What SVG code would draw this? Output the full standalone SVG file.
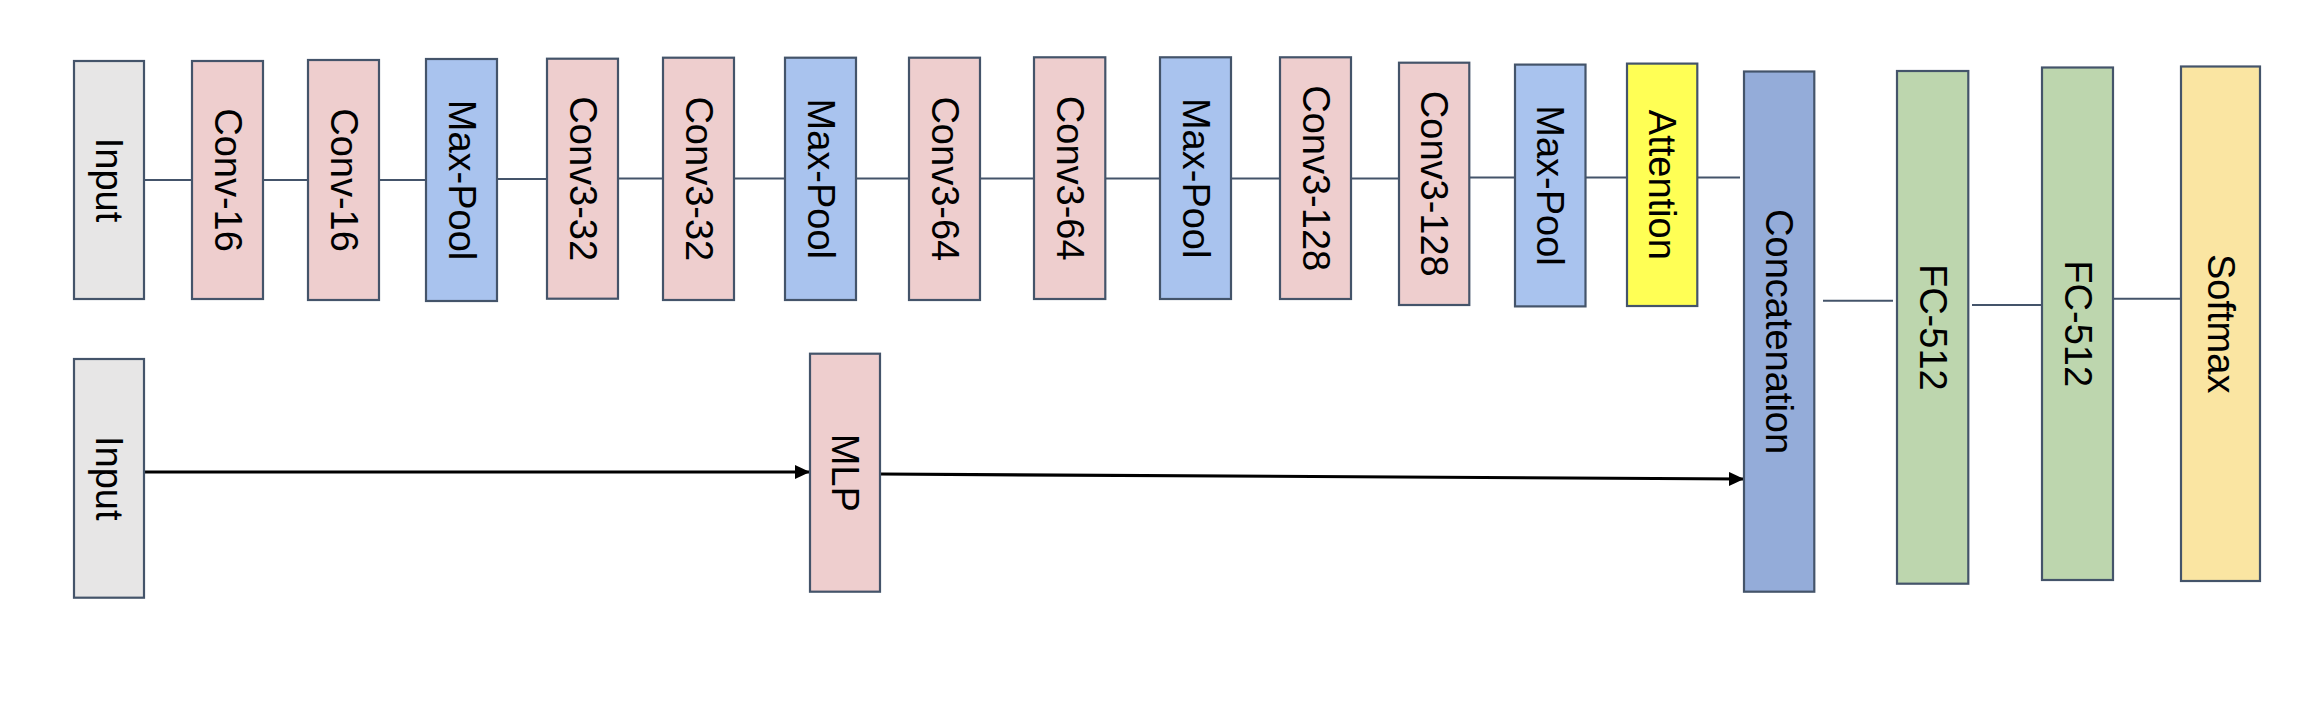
<svg xmlns="http://www.w3.org/2000/svg" width="2314" height="712" viewBox="0 0 2314 712">
<defs>
<style>
.box{stroke:#44546A;stroke-width:2.2}
.inp{fill:#E7E6E6}
.conv{fill:#EECECE}
.pool{fill:#A9C3EE}
.att{fill:#FFFF55}
.cat{fill:#94ACD9}
.fc{fill:#BDD6AE}
.sm{fill:#FAE5A2}
.lbl{font-family:"Liberation Sans",Arial,sans-serif;font-size:38px;fill:#000;text-anchor:middle;dominant-baseline:central}
.ln{stroke:#44546A;stroke-width:2;fill:none}
.arr{stroke:#000;stroke-width:3.2;fill:none;marker-end:url(#ah)}
</style>
<marker id="ah" markerUnits="userSpaceOnUse" markerWidth="15" markerHeight="14" refX="14" refY="7" orient="auto">
<path d="M0,0 L15,7 L0,14 z" fill="#000"/>
</marker>
</defs>
<rect width="2314" height="712" fill="#fff"/>
<g id="connectors">
<line class="ln" x1="144" y1="180" x2="192" y2="180"/>
<line class="ln" x1="263" y1="180" x2="308" y2="180"/>
<line class="ln" x1="379" y1="180" x2="426" y2="180"/>
<line class="ln" x1="497" y1="179" x2="547" y2="179"/>
<line class="ln" x1="618" y1="178.5" x2="663" y2="178.5"/>
<line class="ln" x1="734" y1="178.5" x2="785" y2="178.5"/>
<line class="ln" x1="856" y1="178.5" x2="909" y2="178.5"/>
<line class="ln" x1="980" y1="178.5" x2="1034" y2="178.5"/>
<line class="ln" x1="1105" y1="178.5" x2="1160" y2="178.5"/>
<line class="ln" x1="1231" y1="178.5" x2="1280" y2="178.5"/>
<line class="ln" x1="1351" y1="178.5" x2="1399" y2="178.5"/>
<line class="ln" x1="1469" y1="177.5" x2="1515" y2="177.5"/>
<line class="ln" x1="1585" y1="177.5" x2="1627" y2="177.5"/>
<line class="ln" x1="1697" y1="177.5" x2="1740" y2="177.5"/>
<line class="ln" x1="1823" y1="300.7" x2="1893" y2="300.7"/>
<line class="ln" x1="1972" y1="305" x2="2042" y2="305"/>
<line class="ln" x1="2111" y1="298.7" x2="2181" y2="298.7"/>
<line class="arr" x1="144" y1="472" x2="809" y2="472"/>
<line class="arr" x1="880" y1="474" x2="1743" y2="479"/>
</g>
<g id="input1"><rect class="box inp" x="74" y="61" width="70" height="238"/><text class="lbl" transform="translate(109,180) rotate(90)">Input</text></g>
<g id="conv16a"><rect class="box conv" x="192" y="61" width="71" height="238"/><text class="lbl" transform="translate(227.5,180) rotate(90)">Conv-16</text></g>
<g id="conv16b"><rect class="box conv" x="308" y="60" width="71" height="240"/><text class="lbl" transform="translate(343.5,180) rotate(90)">Conv-16</text></g>
<g id="poolA"><rect class="box pool" x="426" y="59" width="71" height="242"/><text class="lbl" transform="translate(461.5,180) rotate(90)">Max-Pool</text></g>
<g id="conv32a"><rect class="box conv" x="547" y="58.7" width="71" height="240"/><text class="lbl" transform="translate(582.5,178.7) rotate(90)">Conv3-32</text></g>
<g id="conv32b"><rect class="box conv" x="663" y="57.7" width="71" height="242.3"/><text class="lbl" transform="translate(698.5,178.8) rotate(90)">Conv3-32</text></g>
<g id="poolB"><rect class="box pool" x="785" y="57.7" width="71" height="242.3"/><text class="lbl" transform="translate(820.5,178.8) rotate(90)">Max-Pool</text></g>
<g id="conv64a"><rect class="box conv" x="909" y="57.7" width="71" height="242.3"/><text class="lbl" transform="translate(944.5,178.8) rotate(90)">Conv3-64</text></g>
<g id="conv64b"><rect class="box conv" x="1034" y="57.3" width="71.3" height="241.7"/><text class="lbl" transform="translate(1069.6,178.2) rotate(90)">Conv3-64</text></g>
<g id="poolC"><rect class="box pool" x="1160" y="57.3" width="71" height="241.7"/><text class="lbl" transform="translate(1195.5,178.2) rotate(90)">Max-Pool</text></g>
<g id="conv128a"><rect class="box conv" x="1280" y="57.3" width="71" height="241.7"/><text class="lbl" transform="translate(1315.5,178.2) rotate(90)">Conv3-128</text></g>
<g id="conv128b"><rect class="box conv" x="1399" y="62.7" width="70.3" height="242.3"/><text class="lbl" transform="translate(1434.2,183.8) rotate(90)">Conv3-128</text></g>
<g id="poolD"><rect class="box pool" x="1515" y="64.6" width="70.5" height="241.8"/><text class="lbl" transform="translate(1550.2,185.5) rotate(90)">Max-Pool</text></g>
<g id="attention"><rect class="box att" x="1627" y="63.6" width="70.3" height="242.4"/><text class="lbl" transform="translate(1662.1,184.8) rotate(90)">Attention</text></g>
<g id="concat"><rect class="box cat" x="1744" y="71.5" width="70.3" height="520.2"/><text class="lbl" transform="translate(1779.1,331.6) rotate(90)">Concatenation</text></g>
<g id="fc1"><rect class="box fc" x="1897" y="71" width="71.3" height="512.7"/><text class="lbl" transform="translate(1932.6,327.3) rotate(90)">FC-512</text></g>
<g id="fc2"><rect class="box fc" x="2042" y="67.5" width="71" height="512.5"/><text class="lbl" transform="translate(2077.5,323.7) rotate(90)">FC-512</text></g>
<g id="softmax"><rect class="box sm" x="2181" y="66.5" width="79" height="514.5"/><text class="lbl" transform="translate(2220.5,323.7) rotate(90)">Softmax</text></g>
<g id="input2"><rect class="box inp" x="74" y="359" width="70" height="238.7"/><text class="lbl" transform="translate(109,478.3) rotate(90)">Input</text></g>
<g id="mlp"><rect class="box conv" x="810" y="353.7" width="70" height="238"/><text class="lbl" transform="translate(845,472.7) rotate(90)">MLP</text></g>
</svg>
